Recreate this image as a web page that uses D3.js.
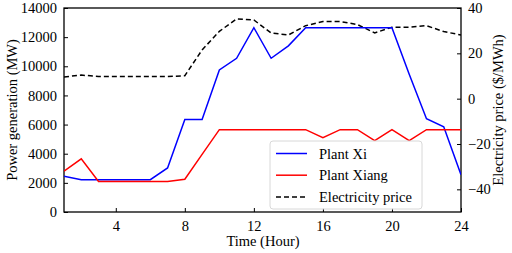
<!DOCTYPE html>
<html><head><meta charset="utf-8">
<script src="https://cdn.jsdelivr.net/npm/d3@7"></script>
<style>body{margin:0;background:#fff}svg{display:block}</style>
</head><body>
<script>
const hours = d3.range(1, 25);
const plantXi = [2450,2220,2220,2220,2220,2220,3020,6350,6350,9750,10550,12650,10550,11400,12650,12650,12650,12650,12650,12650,9450,6400,5850,2550];
const plantXiang = [2800,3650,2100,2100,2100,2100,2100,2250,3950,5650,5650,5650,5650,5650,5650,5100,5650,5650,4900,5650,4900,5650,5650,5650];
const price = [9.6,10.4,9.8,9.8,9.8,9.8,9.8,10.1,21.5,29.7,35.2,34.7,29.0,28.1,32.2,34.0,34.0,32.7,29.0,31.5,31.5,32.2,29.6,28.1];
const xTicks = [4,8,12,16,20,24];
const yLeftTicks = [0,2000,4000,6000,8000,10000,12000,14000];
const yRightTicks = [-40,-20,0,20,40];
const legendLabels = ["Plant Xi","Plant Xiang","Electricity price"];

const FONT = "'Liberation Serif'";
const W=512,H=253, L=64, R=461, T=8, B=212;
const svg = d3.select("body").append("svg").attr("width",W).attr("height",H);
const x = d3.scaleLinear().domain([1,24]).range([L,R]);
const yL = d3.scaleLinear().domain([0,14000]).range([B,T]);
const yR = d3.scaleLinear().domain([-50,40]).range([B,T]);

const fs = 14.5;
const ax = svg.append("g").attr("transform",`translate(0,${B})`)
  .call(d3.axisBottom(x).tickValues(xTicks).tickSize(-4).tickPadding(9).tickFormat(d3.format("d")));
const ayl = svg.append("g").attr("transform",`translate(${L},0)`)
  .call(d3.axisLeft(yL).tickValues(yLeftTicks).tickSize(-4).tickPadding(7).tickFormat(d3.format("d")));
const ayr = svg.append("g").attr("transform",`translate(${R},0)`)
  .call(d3.axisRight(yR).tickValues(yRightTicks).tickSize(-4).tickPadding(7).tickFormat(d=>d<0?"\u2212"+Math.abs(d):d));
[ax,ayl,ayr].forEach(g=>{
  g.attr("font-family",null).attr("font-size",null);
  g.selectAll("text").style("font-family",FONT).style("font-size",fs+"px").attr("fill","#000");
  g.selectAll("line").attr("stroke","#000");
  g.select(".domain").remove();
});
svg.append("rect").attr("x",L).attr("y",T).attr("width",R-L).attr("height",B-T)
  .attr("fill","none").attr("stroke","#000").attr("stroke-width",1.3);

const clip = svg.append("clipPath").attr("id","c").append("rect").attr("x",L).attr("y",T).attr("width",R-L).attr("height",B-T);
const g = svg.append("g").attr("clip-path","url(#c)");
const lineL = arr => d3.line().x((d,i)=>x(hours[i])).y(d=>yL(d))(arr);
const lineR = arr => d3.line().x((d,i)=>x(hours[i])).y(d=>yR(d))(arr);
g.append("path").attr("d",lineR(price)).attr("fill","none").attr("stroke","#000").attr("stroke-width",1.5).attr("stroke-dasharray","5,3");
g.append("path").attr("d",lineL(plantXi)).attr("fill","none").attr("stroke","#0000ff").attr("stroke-width",1.5);
g.append("path").attr("d",lineL(plantXiang)).attr("fill","none").attr("stroke","#ff0000").attr("stroke-width",1.5);

// legend
const lg = svg.append("g");
lg.append("rect").attr("x",270).attr("y",141).attr("width",152).attr("height",68).attr("rx",3)
  .attr("fill","#fff").attr("fill-opacity",0.85).attr("stroke","#d8d8d8").attr("stroke-width",1);
const styles = [{c:"#0000ff",d:null},{c:"#ff0000",d:null},{c:"#000",d:"5,3"}];
legendLabels.forEach((t,i)=>{
  const yy = 153.5 + i*21.7;
  lg.append("line").attr("x1",276).attr("x2",307).attr("y1",yy).attr("y2",yy)
    .attr("stroke",styles[i].c).attr("stroke-width",1.5).attr("stroke-dasharray",styles[i].d);
  lg.append("text").attr("x",319).attr("y",yy+5).style("font-family",FONT).style("font-size",fs+"px").text(t);
});

svg.append("text").attr("x",263).attr("y",246).attr("text-anchor","middle").style("font-family",FONT).style("font-size",fs+"px").text("Time (Hour)");
svg.append("text").attr("transform",`translate(17,${(T+B)/2}) rotate(-90)`).attr("text-anchor","middle").style("font-family",FONT).style("font-size",fs+"px").text("Power generation (MW)");
svg.append("text").attr("transform",`translate(498,${(T+B)/2}) rotate(-90)`).attr("text-anchor","middle").attr("dy","0.35em").style("font-family",FONT).style("font-size",fs+"px").text("Electricity price ($/MWh)");
</script>
</body></html>
